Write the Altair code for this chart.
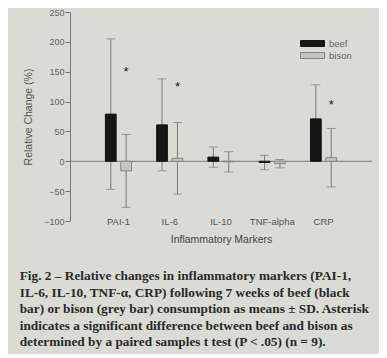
import altair as alt
import pandas as pd

markers = ["PAI-1", "IL-6", "IL-10", "TNF-alpha", "CRP"]
beef_mean = [79, 61, 7, -2, 71]
beef_sd = [126, 77, 17, 12, 57]
bison_mean = [-16, 5, -1, -4, 6]
bison_sd = [61, 60, 17, 7, 49]
star_markers = ["PAI-1", "IL-6", "CRP"]
star_values = [155, 130, 100]
y_ticks = [-100, -50, 0, 50, 100, 150, 200, 250]
caption = [
    "Fig. 2 \u2013 Relative changes in inflammatory markers (PAI-1,",
    "IL-6, IL-10, TNF-\u03b1, CRP) following 7 weeks of beef (black",
    "bar) or bison (grey bar) consumption as means \u00b1 SD. Asterisk",
    "indicates a significant difference between beef and bison as",
    "determined by a paired samples t test (P < .05) (n = 9).",
]

rows = []
for m, bm, bs, im, isd in zip(markers, beef_mean, beef_sd, bison_mean, bison_sd):
    rows.append({"marker": m, "diet": "beef", "mean": bm, "lo": bm - bs, "hi": bm + bs})
    rows.append({"marker": m, "diet": "bison", "mean": im, "lo": im - isd, "hi": im + isd})
df = pd.DataFrame(rows)
stars = pd.DataFrame({"marker": star_markers, "diet": ["bison"] * len(star_markers), "v": star_values, "s": ["*"] * len(star_markers)})
zero = pd.DataFrame({"z": [0]})

xenc = alt.X("marker:N", sort=markers, title="Inflammatory Markers",
             scale=alt.Scale(paddingInner=0.49, paddingOuter=0.69),
             axis=alt.Axis(labelAngle=0, domain=False, ticks=False, labelPadding=-5,
                           labelFontSize=9.5, labelColor="#555555", labelFont="Liberation Sans",
                           titleFont="Liberation Sans", titleFontSize=10.5, titleFontWeight="normal",
                           titleColor="#444444", titlePadding=9))
xoff = alt.XOffset("diet:N", sort=["beef", "bison"], scale=alt.Scale(paddingInner=0.3, paddingOuter=0))
yscale = alt.Scale(domain=[-100, 250], nice=False)
yaxis = alt.Axis(values=y_ticks, grid=False, tickSize=5, labelPadding=1, domainColor="#777777",
                 tickColor="#777777", labelFontSize=9, labelColor="#666666", labelFont="Liberation Sans",
                 title="Relative Change (%)", titleFont="Liberation Sans", titleFontSize=10.5,
                 titleFontWeight="normal", titleColor="#555555", titlePadding=10)

legend_kw = dict(title=None, orient="none", legendX=236, legendY=25,
                 symbolType="M-2,-0.5H2V0.5H-2Z", symbolSize=144,
                 symbolStrokeWidth=1, labelOffset=10, rowPadding=0, padding=0,
                 labelFontSize=9.5, labelColor="#666666", labelFont="Liberation Sans")

base = alt.Chart(df)

zline = alt.Chart(zero).mark_rule(color="#777777", strokeWidth=1).encode(y=alt.Y("z:Q", scale=yscale, axis=yaxis))

whisk = base.mark_rule(color="#7a7a7a", strokeWidth=1).encode(
    x=xenc, xOffset=xoff, y=alt.Y("lo:Q", scale=yscale, axis=yaxis), y2="hi:Q")

caps_lo = base.mark_tick(color="#7a7a7a", thickness=1, size=9).encode(
    x=xenc, xOffset=xoff, y=alt.Y("lo:Q", scale=yscale, axis=yaxis))
caps_hi = base.mark_tick(color="#7a7a7a", thickness=1, size=9).encode(
    x=xenc, xOffset=xoff, y=alt.Y("hi:Q", scale=yscale, axis=yaxis))

bars = base.mark_bar(strokeWidth=1).encode(
    x=xenc, xOffset=xoff,
    y=alt.Y("mean:Q", scale=yscale, axis=yaxis),
    fill=alt.Fill("diet:N", scale=alt.Scale(domain=["beef", "bison"], range=["#161616", "#c4c4c0"]),
                  legend=alt.Legend(**legend_kw)),
    stroke=alt.Stroke("diet:N", scale=alt.Scale(domain=["beef", "bison"], range=["#161616", "#858585"]),
                      legend=alt.Legend(**legend_kw)),
)

star = alt.Chart(stars).mark_text(fontSize=13, baseline="middle", dy=3,
                                  font="Liberation Sans").encode(
    x=xenc, xOffset=xoff, y=alt.Y("v:Q", scale=yscale, axis=yaxis), text="s:N",
    color=alt.value("#222222"))

chart = alt.layer(whisk, zline, caps_lo, caps_hi, bars, star).properties(
    width=302, height=209,
    autosize=alt.AutoSizeParams(type="none"),
    padding={"left": 62, "top": 4, "right": 7, "bottom": 133},
    background="#dadad6",
    title=alt.TitleParams(text=caption, orient="bottom", anchor="start", frame="bounds",
                          dx=-4, offset=24, font="Liberation Serif", fontSize=13.3,
                          fontWeight="bold", color="#2a2a2a", lineHeight=16.5),
).configure_view(stroke=None)

chart.save("out.html", embed_options={"renderer": "svg", "actions": False})
